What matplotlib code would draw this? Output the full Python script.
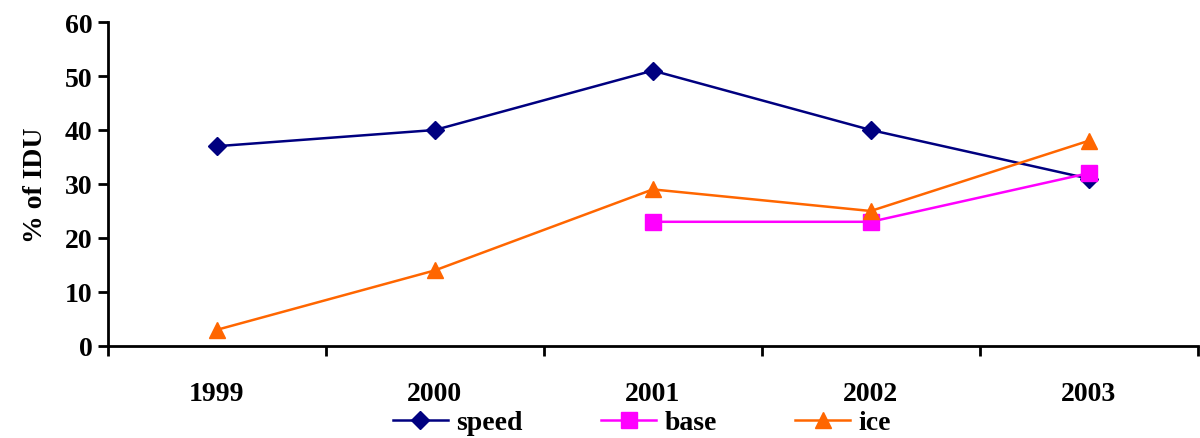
import numpy as np
import matplotlib.pyplot as plt
from matplotlib.ticker import FixedLocator

plt.rcParams['font.family'] = ['Liberation Serif', 'DejaVu Serif']
plt.rcParams['font.weight'] = 'bold'

years = ['1999', '2000', '2001', '2002', '2003']
speed = [37, 40, 51, 40, 31]
base = [np.nan, np.nan, 23, 23, 32]
ice = [3, 14, 29, 25, 38]

fig = plt.figure(figsize=(12, 4.39), dpi=100)
ax = fig.add_axes([0.09, 0.2096, 0.908, 0.738])

x = np.arange(len(years))
ax.plot(x, speed, color='#000080', marker='D', markersize=9, lw=1.8, label='speed')
ax.plot(x, base, color='#FF00FF', marker='s', markersize=11, lw=1.8, label='base')
ax.plot(x, ice, color='#FF6600', marker='^', markersize=12, lw=1.8, label='ice')

ax.set_xlim(-0.5, 4.5)
ax.set_ylim(0, 60)
ax.set_yticks(range(0, 61, 10))
ax.set_xticks(x)
ax.set_xticklabels(years)
ax.xaxis.set_minor_locator(FixedLocator(np.arange(-0.5, 4.6, 1)))
ax.tick_params(axis='x', which='major', length=0, pad=25, labelsize=20)
ax.tick_params(axis='x', which='minor', length=7, width=2, direction='out')
ax.tick_params(axis='y', length=7, width=2, labelsize=20, pad=4)

for s in ['top', 'right']:
    ax.spines[s].set_visible(False)
ax.spines['left'].set_linewidth(2)
ax.spines['bottom'].set_linewidth(2)

ax.set_ylabel('% of IDU', fontsize=20, fontweight='bold', labelpad=12)

ax.legend(loc='lower center', bbox_to_anchor=(0.49, -0.31), ncol=3, frameon=False,
          fontsize=20, handlelength=2.0, columnspacing=2.8, handletextpad=0.3,
          borderaxespad=0)

fig.savefig('out.png', dpi=100)
